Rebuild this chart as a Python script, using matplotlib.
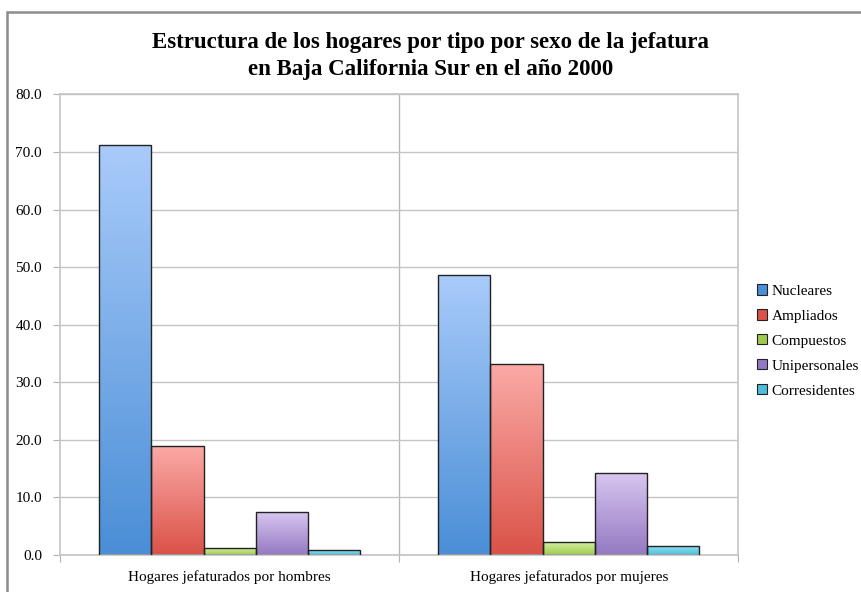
import numpy as np
import matplotlib.pyplot as plt
from matplotlib.colors import LinearSegmentedColormap
from matplotlib.patches import Rectangle

# Data
categories = ["Hogares jefaturados por hombres", "Hogares jefaturados por mujeres"]
series = ["Nucleares", "Ampliados", "Compuestos", "Unipersonales", "Corresidentes"]
nucleares = [71.3, 48.7]
ampliados = [19.0, 33.2]
compuestos = [1.3, 2.3]
unipersonales = [7.4, 14.2]
corresidentes = [0.9, 1.6]
values = [nucleares, ampliados, compuestos, unipersonales, corresidentes]

# colour pairs (top, bottom) for the gradient fill
top_colors = ["#a9cbfa", "#fbaaa6", "#dbf2a8", "#d8c6f0", "#96e4f4"]
bottom_colors = ["#4a8ed6", "#da5248", "#9ccb50", "#9479c2", "#4cbedb"]

plt.rcParams['font.family'] = ['Liberation Serif', 'DejaVu Serif']

fig = plt.figure(figsize=(8.61, 5.92), dpi=100)
ax = fig.add_axes([0.0697, 0.0625, 0.7880, 0.7779])

x = np.arange(len(categories))
width = 0.154
offsets = (np.arange(len(series)) - 2) * width

gradient = np.linspace(0, 1, 256).reshape(-1, 1)
handles = []
for i, name in enumerate(series):
    cmap = LinearSegmentedColormap.from_list(name, [bottom_colors[i], top_colors[i]])
    bars = ax.bar(x + offsets[i], values[i], width, facecolor='none',
                  edgecolor='#222222', linewidth=1.0, zorder=3)
    for p in bars:
        x0, y0 = p.get_x(), p.get_y()
        im = ax.imshow(gradient, cmap=cmap, origin='lower', aspect='auto',
                       extent=[x0, x0 + p.get_width(), y0, y0 + p.get_height()],
                       zorder=2)
        im.set_clip_path(p)
    handles.append(Rectangle((0, 0), 1, 1, facecolor=bottom_colors[i],
                             edgecolor='#222222', linewidth=0.8, label=name))

ax.set_xlim(-0.5, 1.5)
ax.set_ylim(0, 80)
ax.set_yticks(np.arange(0, 81, 10))
ax.set_yticklabels([f"{v:.1f}" for v in np.arange(0, 81, 10)], fontsize=11)
ax.yaxis.grid(True, color='#c4c4c4', linewidth=1.0, zorder=0)

ax.set_xticks([-0.5, 0.5, 1.5])
ax.set_xticklabels([])
ax.set_xticks(x, minor=True)
ax.set_xticklabels(categories, minor=True, fontsize=11)
ax.tick_params(axis='x', which='minor', length=0, pad=11)
ax.tick_params(axis='x', which='major', length=5, color='#b0b0b0')
ax.tick_params(axis='y', length=5, color='#b0b0b0', pad=8)
ax.axvline(0.5, color='#b8b8b8', linewidth=1.0, zorder=0)

for s in ax.spines.values():
    s.set_color('#c4c4c4')
    s.set_linewidth(1.2)

fig.text(0.5, 0.9054, "Estructura de los hogares por tipo por sexo de la jefatura\n"
         "en Baja California Sur en el año 2000", ha='center', va='center',
         fontsize=16.5, fontweight='bold', linespacing=1.37)

leg = fig.legend(handles=handles, loc='center left', bbox_to_anchor=(0.872, 0.424),
                 frameon=False, fontsize=11, handlelength=0.65, handleheight=0.65,
                 handletextpad=0.3, labelspacing=0.75, borderaxespad=0)

# outer chart frame
fig.patches.append(Rectangle((7 / 861, -0.1), 1.2, 1 - 12 / 592 + 0.1,
                             transform=fig.transFigure, fill=False,
                             edgecolor='#8c8c8c', linewidth=1.8))

fig.savefig("out.png", dpi=100)
